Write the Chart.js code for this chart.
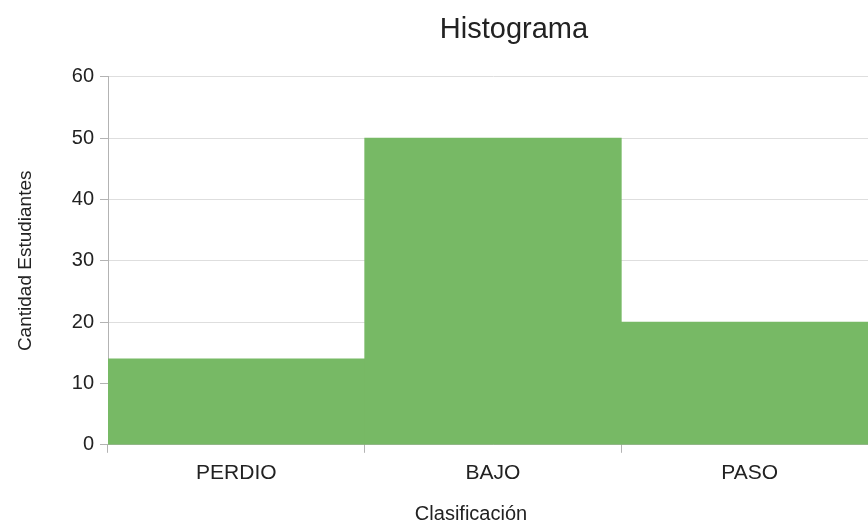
<!DOCTYPE html>
<html>
<head>
<meta charset="utf-8">
<script src="https://cdn.jsdelivr.net/npm/chart.js@4"></script>
<style>
  html, body { margin: 0; padding: 0; background: #fff; overflow: hidden; }
  .wrap { width: 1028px; height: 522px; }
</style>
</head>
<body>
<div class="wrap"><canvas id="myChart"></canvas></div>
<script>
const categorias = ['PERDIO', 'BAJO', 'PASO'];
const estudiantes = [14, 50, 20];
const yTicks = [0, 10, 20, 30, 40, 50, 60];

const FONT = "'Liberation Sans', Arial, sans-serif";
const GRID = '#dedede';
const AXIS = '#b3b3b3';
const TEXT = '#222';

// x axis title is drawn a bit left of the plot centre
const axisTitle = {
    id: 'axisTitle',
    afterDraw(chart) {
        const { ctx, chartArea } = chart;
        ctx.save();
        ctx.font = '20px ' + FONT;
        ctx.fillStyle = TEXT;
        ctx.textAlign = 'center';
        ctx.textBaseline = 'middle';
        ctx.fillText('Clasificación', (chartArea.left + chartArea.right) / 2 - 22, 514);
        ctx.restore();
    }
};

const myChartRef = document.getElementById('myChart').getContext('2d');
new Chart(myChartRef, {
    type: 'bar',
    data: {
        labels: categorias,
        datasets: [{
            label: 'Estudiantes',
            data: estudiantes,
            backgroundColor: '#77b965',
            borderWidth: 0,
            barPercentage: 1,
            categoryPercentage: 1
        }]
    },
    options: {
        responsive: true,
        maintainAspectRatio: false,
        animation: false,
        layout: { padding: { left: 0, right: 0, top: 0, bottom: 28 } },
        plugins: {
            legend: { display: false },
            tooltip: { enabled: false },
            title: {
                display: true,
                text: 'Histograma',
                color: TEXT,
                font: { family: FONT, size: 29, weight: 'normal' },
                padding: { top: 13, bottom: 29 }
            }
        },
        scales: {
            x: {
                grid: { drawOnChartArea: false, drawTicks: true, tickLength: 8, color: AXIS },
                border: { display: true, color: AXIS },
                ticks: { color: TEXT, font: { family: FONT, size: 21 }, padding: 8 }
            },
            y: {
                min: 0,
                max: 60,
                afterBuildTicks: s => { s.ticks = yTicks.map(v => ({ value: v })); },
                afterFit: s => { s.width = 108; },
                grid: { color: GRID, tickColor: AXIS, tickLength: 8 },
                border: { display: true, color: AXIS },
                ticks: { color: TEXT, font: { family: FONT, size: 20 }, padding: 6 },
                title: {
                    display: true,
                    text: 'Cantidad Estudiantes',
                    color: TEXT,
                    font: { family: FONT, size: 19 },
                    padding: { top: 14, bottom: 0 }
                }
            },
            // empty right-hand axis, keeps the plot clear of the far edge
            y2: {
                position: 'right',
                grid: { display: false },
                border: { display: false },
                ticks: { display: false },
                afterFit: s => { s.width = 150; }
            }
        }
    },
    plugins: [axisTitle]
});
</script>
</body>
</html>
